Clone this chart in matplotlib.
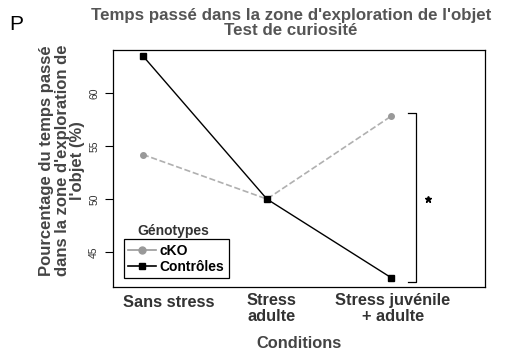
import matplotlib.pyplot as plt
from matplotlib.lines import Line2D
from matplotlib.transforms import ScaledTranslation

plt.rcParams["font.family"] = ["Liberation Sans", "DejaVu Sans"]

conditions = ["Sans stress", "Stress\nadulte", "Stress juvénile\n+ adulte"]
cko = [54.2, 50.0, 57.8]
controles = [63.5, 50.0, 42.6]
yticks = [45, 50, 55, 60]

grey = "#555555"
x = [1, 2, 3]

fig = plt.figure(figsize=(5.14, 3.54), dpi=100)
ax = fig.add_axes([0.22, 0.189, 0.724, 0.670])

ax.plot(x, cko, color="#b0b0b0", linestyle="--", linewidth=1.2,
        marker="o", markersize=4, markerfacecolor="#999999", markeredgecolor="#999999")
ax.plot(x, controles, color="black", linestyle="-", linewidth=1.0,
        marker="s", markersize=4, markerfacecolor="black")

ax.set_xlim(0.76, 3.76)
ax.set_ylim(41.7, 64.06)
ax.set_yticks(yticks)
ax.set_yticklabels([str(v) for v in yticks], rotation=90, va="center",
                   fontsize=7.5, color="#333333")
ax.set_xticks(x)
ax.set_xticklabels(conditions, fontsize=11.8, fontweight="bold", color="#333333",
                   linespacing=1.1)
ax.tick_params(axis="x", length=0, pad=4)
ax.tick_params(axis="y", length=6, width=0.8, pad=4)
# nudge the tick labels sideways (offsets in pixels)
for lab, (dx, dy) in zip(ax.get_xticklabels(), [(26, -2), (5, 0), (2, 0)]):
    lab.set_transform(lab.get_transform() +
                      ScaledTranslation(dx / fig.dpi, dy / fig.dpi, fig.dpi_scale_trans))
for s in ax.spines.values():
    s.set_linewidth(0.9)

# significance bracket between genotypes at the last condition
bx, bl = 3.2, 3.14
ax.plot([bl, bx, bx, bl], [58.1, 58.1, 42.2, 42.2], color="black", linewidth=0.9)
ax.plot(3.3, 50, marker="*", color="black", markersize=5)

ax.set_ylabel("Pourcentage du temps passé\ndans la zone d'exploration de\nl'objet (%)",
              fontsize=12, fontweight="bold", color="#444444", linespacing=1.05)
ax.yaxis.set_label_coords(-0.075, 0.535)
fig.text(0.582, 0.008, "Conditions", fontsize=11.8, fontweight="bold",
         color="#444444", ha="center", va="bottom")

fig.text(0.566, 0.977, "Temps passé dans la zone d'exploration de l'objet\nTest de curiosité",
         fontsize=12.2, fontweight="bold", color=grey, linespacing=1.0,
         ha="center", va="top")
fig.text(0.018, 0.915, "P", fontsize=15, color="black")

# legend: title drawn above a frame that holds only the entries
handles = [
    Line2D([], [], color="#999999", marker="o", markersize=5, linewidth=1.2),
    Line2D([], [], color="black", marker="s", markersize=5, linewidth=1.2),
]
leg = ax.legend(handles, ["cKO", "Contrôles"], loc="lower left",
                bbox_to_anchor=(0.01, 0.01), fancybox=False, edgecolor="black",
                framealpha=1, handlelength=2.0, handletextpad=0.3,
                borderpad=0.3, labelspacing=0.15, prop={"weight": "bold", "size": 10})
leg.get_frame().set_linewidth(0.9)
ax.text(0.065, 0.235, "Génotypes", transform=ax.transAxes, fontsize=10,
        fontweight="bold", color="#333333", ha="left", va="center")

fig.savefig("out.png", dpi=100)
